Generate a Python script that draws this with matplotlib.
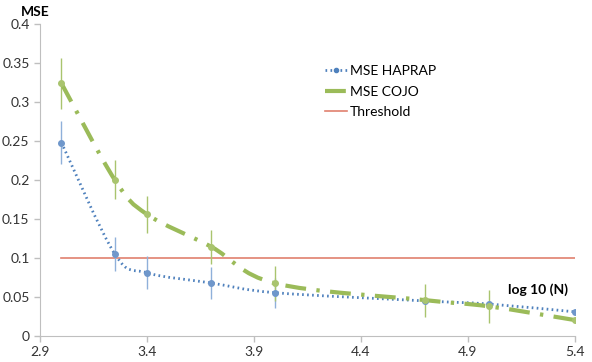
import matplotlib.pyplot as plt
from matplotlib.path import Path
from matplotlib.patches import PathPatch
import numpy as np

plt.rcParams['font.family'] = ['Lato', 'DejaVu Sans']

# data
log_n = [3.0, 3.25, 3.4, 3.7, 4.0, 4.7, 5.0, 5.4]
mse_haprap = [0.248, 0.105, 0.081, 0.068, 0.0555, 0.045, 0.041, 0.031]
err_haprap = [0.027, 0.022, 0.021, 0.021, 0.019, 0.0, 0.0, 0.0]
mse_cojo = [0.324, 0.200, 0.156, 0.1145, 0.0675, 0.046, 0.038, 0.0205]
err_cojo = [0.033, 0.025, 0.024, 0.022, 0.022, 0.021, 0.021, 0.0]
threshold_x = [3.0, 5.4]
threshold_y = [0.1, 0.1]

blue = '#4F81BD'
green = '#9BBB59'
red = '#E0806E'


def smooth_path(x, y):
    # excel-like smoothed line drawn as bezier segments through the points
    x = np.asarray(x, float)
    y = np.asarray(y, float)
    verts = [(x[0], y[0])]
    codes = [Path.MOVETO]
    n = len(x)
    for i in range(n - 1):
        x0, y0 = (x[i - 1], y[i - 1]) if i > 0 else (x[i], y[i])
        x3, y3 = (x[i + 2], y[i + 2]) if i + 2 < n else (x[i + 1], y[i + 1])
        c1 = (x[i] + (x[i + 1] - x0) / 6, y[i] + (y[i + 1] - y0) / 6)
        c2 = (x[i + 1] - (x3 - x[i]) / 6, y[i + 1] - (y3 - y[i]) / 6)
        verts += [c1, c2, (x[i + 1], y[i + 1])]
        codes += [Path.CURVE4] * 3
    return Path(verts, codes)


fig = plt.figure(figsize=(5.92, 3.62), dpi=100)
ax = fig.add_axes([0.0676, 0.0718, 0.903, 0.862])

ax.plot(threshold_x, threshold_y, color=red, lw=1.2, label='Threshold', zorder=2)

ax.errorbar(log_n, mse_haprap, yerr=err_haprap, fmt='none', ecolor='#8FB0DA', elinewidth=1, zorder=3)
ax.errorbar(log_n, mse_cojo, yerr=err_cojo, fmt='none', ecolor='#A9C46E', elinewidth=1, zorder=3)

ax.add_patch(PathPatch(smooth_path(log_n, mse_haprap), fill=False, edgecolor=blue,
                       lw=2, linestyle=(0, (0.6, 1.2)), zorder=4))
ax.add_patch(PathPatch(smooth_path(log_n, mse_cojo), fill=False, edgecolor=green,
                       lw=3, linestyle=(0, (5, 2.5, 0.8, 2.5)), zorder=4))
ax.plot(log_n, mse_haprap, 'o', color='#6F97CB', ms=4, zorder=5)
ax.plot(log_n, mse_cojo, 'o', color='#A9C46E', ms=4, zorder=5)

# legend proxies
h1, = ax.plot([], [], color=blue, lw=2, linestyle=(0, (0.6, 1.2)), marker='o', ms=3, label='MSE HAPRAP')
h2, = ax.plot([], [], color=green, lw=3, linestyle=(0, (5, 2.5, 0.8, 2.5)), label='MSE COJO')
h3, = ax.plot([], [], color=red, lw=1.2, label='Threshold')
ax.legend(handles=[h1, h2, h3], loc='upper left', bbox_to_anchor=(0.51, 0.908), frameon=False,
          fontsize=10, handlelength=1.6, handletextpad=0.2, labelspacing=0.6)

ax.set_xlim(2.9, 5.4)
ax.set_ylim(0, 0.4)
ax.set_xticks([2.9, 3.4, 3.9, 4.4, 4.9, 5.4])
ax.set_xticklabels(['2.9', '3.4', '3.9', '4.4', '4.9', '5.4'])
ax.set_yticks([0, 0.05, 0.1, 0.15, 0.2, 0.25, 0.3, 0.35, 0.4])
ax.set_yticklabels(['0', '0.05', '0.1', '0.15', '0.2', '0.25', '0.3', '0.35', '0.4'])
ax.tick_params(labelsize=10, color='#BFBFBF', length=4, width=1, colors='#333333')
ax.tick_params(axis='both', color='#BFBFBF')
for s in ['top', 'right']:
    ax.spines[s].set_visible(False)
for s in ['left', 'bottom']:
    ax.spines[s].set_color('#BFBFBF')

fig.text(0.035, 0.95, 'MSE', fontsize=10, fontweight='bold', va='bottom')
ax.text(5.37, 0.06, 'log 10 (N)', fontsize=10, fontweight='bold', ha='right', va='center')

fig.savefig('out.png', dpi=100)
